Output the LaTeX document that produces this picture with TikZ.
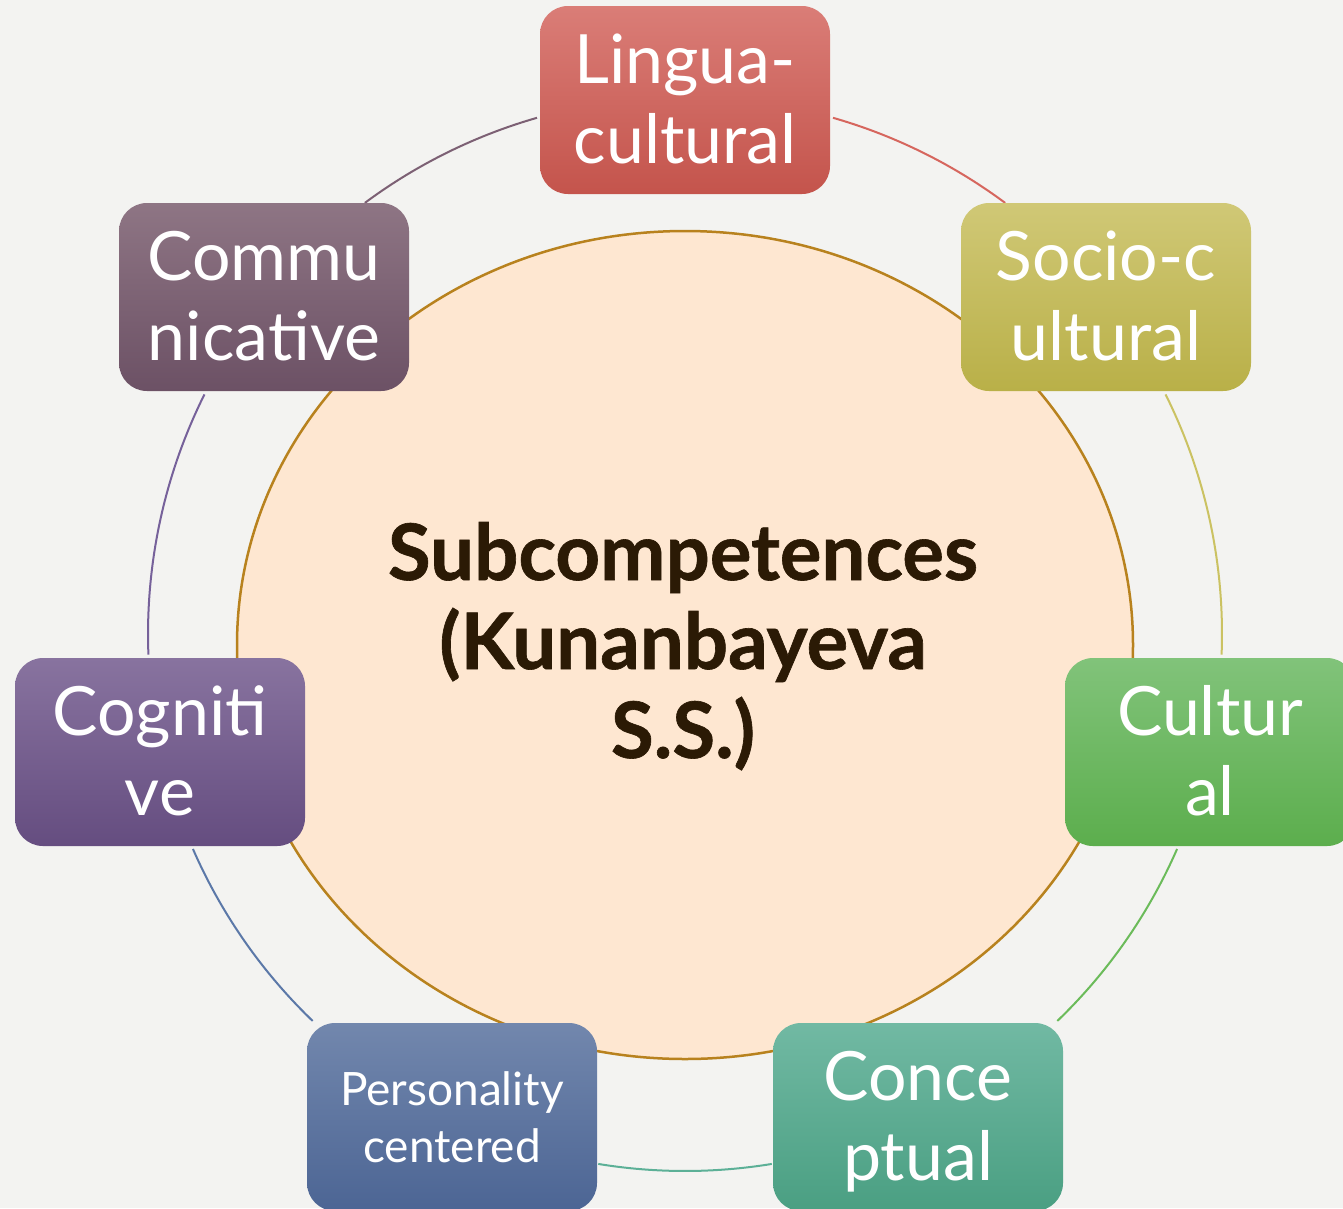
\documentclass[tikz,border=0pt]{standalone}
\usepackage{fontspec}
\setmainfont{Lato}
\usetikzlibrary{calc}
\definecolor{bg}{HTML}{F3F3F1}
\definecolor{cfill}{HTML}{FEE7D1}
\definecolor{cline}{HTML}{B8821E}
\definecolor{ctext}{HTML}{2B1A05}
\definecolor{redT}{HTML}{DA7D77}\definecolor{redB}{HTML}{C4544C}
\definecolor{oliT}{HTML}{D0C876}\definecolor{oliB}{HTML}{B9B048}
\definecolor{grnT}{HTML}{81C37A}\definecolor{grnB}{HTML}{5CAE4D}
\definecolor{tealT}{HTML}{71B9A3}\definecolor{tealB}{HTML}{4A9F82}
\definecolor{bluT}{HTML}{7287AD}\definecolor{bluB}{HTML}{4C6594}
\definecolor{purT}{HTML}{88739F}\definecolor{purB}{HTML}{654D80}
\definecolor{mauT}{HTML}{8E7584}\definecolor{mauB}{HTML}{6C5165}
\definecolor{aRed}{HTML}{D6665E}
\definecolor{aOli}{HTML}{CBC262}
\definecolor{aGrn}{HTML}{6BBB5A}
\definecolor{aTeal}{HTML}{5CB097}
\definecolor{aBlu}{HTML}{5B78A8}
\definecolor{aPur}{HTML}{76619A}
\definecolor{aMau}{HTML}{7C6074}
\newcommand\zs{\rule[-16pt]{0pt}{78pt}}
\newcommand\zp{\rule[-11pt]{0pt}{55pt}}
\newcommand\zc{\rule[-18pt]{0pt}{84pt}}
\begin{document}
\begin{tikzpicture}[x=1pt,y=-1pt,
  box/.style={rounded corners=28pt, minimum width=290pt, minimum height=188pt,
    inner sep=0pt, text=white, align=center, font=\fontsize{68}{80}\selectfont},
  ring/.style={line width=2pt},
]
\useasboundingbox (0,0) rectangle (1343,1208);
\fill[bg] (0,0) rectangle (1343,1208);
\clip (0,0) rectangle (1343,1208);
\coordinate (ctr) at (685,634);
% outer ring arcs
\coordinate (r1) at ($(ctr)+(233.4:537)$);
\coordinate (r2) at ($(ctr)+(286.0:537)$);
\coordinate (r3) at ($(ctr)+(333.5:537)$);
\coordinate (r4) at ($(ctr)+(23.6:537)$);
\coordinate (r5) at ($(ctr)+(80.7:537)$);
\coordinate (r6) at ($(ctr)+(133.9:537)$);
\coordinate (r7) at ($(ctr)+(177.8:537)$);
\draw[ring,aMau]  (r1) arc[start angle=233.4,end angle=254.0,radius=537];
\draw[ring,aRed]  (r2) arc[start angle=286.0,end angle=306.6,radius=537];
\draw[ring,aOli]  (r3) arc[start angle=333.5,end angle=362.2,radius=537];
\draw[ring,aGrn]  (r4) arc[start angle=23.6,end angle=46.1,radius=537];
\draw[ring,aTeal] (r5) arc[start angle=80.7,end angle=99.3,radius=537];
\draw[ring,aBlu]  (r6) arc[start angle=133.9,end angle=156.4,radius=537];
\draw[ring,aPur]  (r7) arc[start angle=177.8,end angle=206.5,radius=537];
% central ellipse
\draw[cline, fill=cfill, line width=2.5pt] (685,645) ellipse [x radius=448, y radius=414];
\node[align=center, text=ctext, font=\fontsize{78}{89}\selectfont\bfseries\addfontfeatures{FakeBold=0.8}] (center) at (683,645)
  {Subcompetences\zc\\(Kunanbayeva\zc\\S.S.)\zc};
% boxes
\node[box, top color=redT, bottom color=redB] (lingua) at (685,100) {Lingua-\zs\\cultural\zs};
\node[box, top color=oliT, bottom color=oliB] (socio) at (1106,297) {Socio-c\zs\\ultural\zs};
\node[box, top color=grnT, bottom color=grnB] (cultural) at (1210,752) {Cultur\zs\\al\zs};
\node[box, top color=tealT, bottom color=tealB] (concept) at (918,1117) {Conce\zs\\ptual\zs};
\node[box, top color=bluT, bottom color=bluB, font=\fontsize{46}{57}\selectfont] (person) at (452,1117) {Personality\zp\\centered\zp};
\node[box, top color=purT, bottom color=purB] (cognitive) at (160,752) {Cogniti\zs\\ve\zs};
\node[box, top color=mauT, bottom color=mauB] (commu) at (264,297) {Commu\zs\\nicative\zs};
\end{tikzpicture}
\end{document}
